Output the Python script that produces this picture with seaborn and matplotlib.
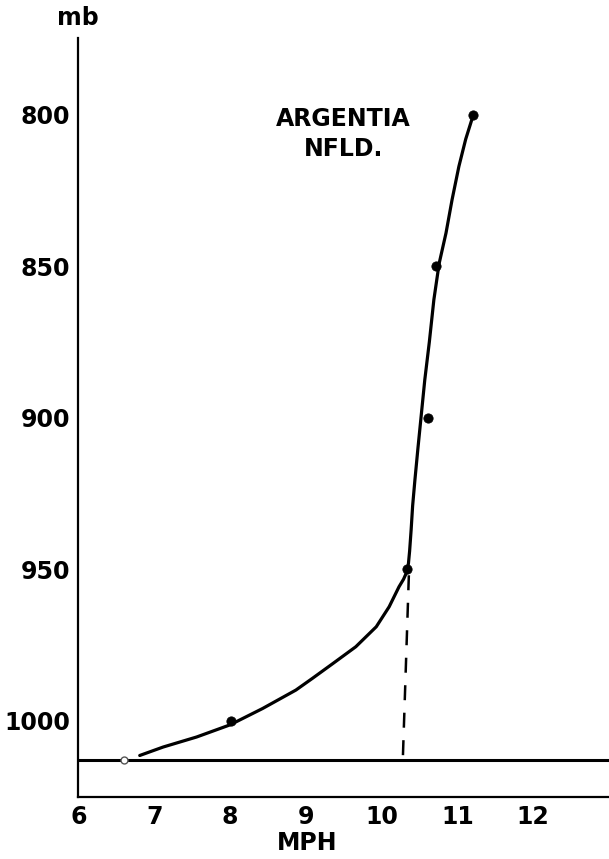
import matplotlib
matplotlib.use("Agg")
import matplotlib.pyplot as plt
import seaborn as sns
import pandas as pd

# observed points
obs_mph = [11.21, 10.72, 10.61, 10.34, 8.01]
obs_mb = [800, 850, 900, 950, 1000]
surface_mph = [6.6]
surface_mb = [1013]

# hand-drawn fitted curve
curve_mph = [11.21, 11.11, 11.02, 10.93, 10.85, 10.76, 10.69, 10.63, 10.57, 10.52,
             10.48, 10.44, 10.41, 10.39, 10.37, 10.355, 10.34, 10.29, 10.23, 10.10,
             9.93, 9.66, 9.36, 9.09, 8.87, 8.43, 8.0, 7.56, 7.12, 6.81]
curve_mb = [800, 808, 817, 828, 839, 849, 861, 875, 887.5, 900,
            910, 920.5, 929, 937, 944, 948, 950.5, 953.3, 955.8, 962.4,
            969, 975.6, 981.1, 986, 989.9, 996, 1001.4, 1005.4, 1008.7, 1011.5]

# vertical dashed line
dash_mph = [10.36, 10.28]
dash_mb = [952, 1013]

surface_level = 1013

x_ticks = [6, 7, 8, 9, 10, 11, 12]
y_ticks = [800, 850, 900, 950, 1000]

sns.set_style("white")
plt.rcParams['font.family'] = ['DejaVu Sans']
plt.rcParams['text.color'] = 'black'
plt.rcParams['xtick.color'] = 'black'
plt.rcParams['ytick.color'] = 'black'
plt.rcParams['axes.labelcolor'] = 'black'

fig = plt.figure(figsize=(6.09, 8.59), dpi=100)
ax = fig.add_axes([0.1286, 0.0722, 0.8714, 0.8836])

curve_df = pd.DataFrame({"mph": curve_mph, "mb": curve_mb})
sns.lineplot(data=curve_df, x="mph", y="mb", sort=False, estimator=None,
             color="black", lw=2.3, ax=ax)
dash_df = pd.DataFrame({"mph": dash_mph, "mb": dash_mb})
sns.lineplot(data=dash_df, x="mph", y="mb", sort=False, estimator=None,
             color="black", lw=1.8, ax=ax, linestyle=(0, (6, 5)))
obs_df = pd.DataFrame({"mph": obs_mph, "mb": obs_mb})
sns.scatterplot(data=obs_df, x="mph", y="mb", color="black", s=45,
                edgecolor="black", zorder=5, ax=ax)
ax.plot(surface_mph, surface_mb, marker="o", ms=5, mfc="white", mec="#555555",
        mew=1.0, ls="none", zorder=5)

ax.axhline(surface_level, color="black", lw=2.2)

ax.set_xlim(6, 13)
ax.set_ylim(1025.2, 774.6)
ax.set_xticks(x_ticks)
ax.set_yticks(y_ticks)
ax.set_xticklabels([str(v) for v in x_ticks], fontsize=17, fontweight="bold")
ax.set_yticklabels([str(v) for v in y_ticks], fontsize=17, fontweight="bold")
ax.tick_params(axis="x", direction="in", length=5, width=1.4, pad=6, color="black")
ax.tick_params(axis="y", direction="in", length=7, width=1.4, pad=6, color="black")
ax.set_xlabel("")
ax.set_ylabel("")

for side in ["top", "right"]:
    ax.spines[side].set_visible(False)
for side in ["left", "bottom"]:
    ax.spines[side].set_color("black")
    ax.spines[side].set_linewidth(1.6)

fig.text(78 / 609, 1 - 18 / 859, "mb", ha="center", va="center",
         fontsize=17, fontweight="bold")
fig.text(307 / 609, 1 - 843 / 859, "MPH", ha="center", va="center",
         fontsize=17, fontweight="bold")
ax.text(9.5, 806.3, "ARGENTIA\nNFLD.", ha="center", va="center",
        fontsize=17, fontweight="bold", linespacing=1.35)

fig.savefig("out.png", dpi=100)
